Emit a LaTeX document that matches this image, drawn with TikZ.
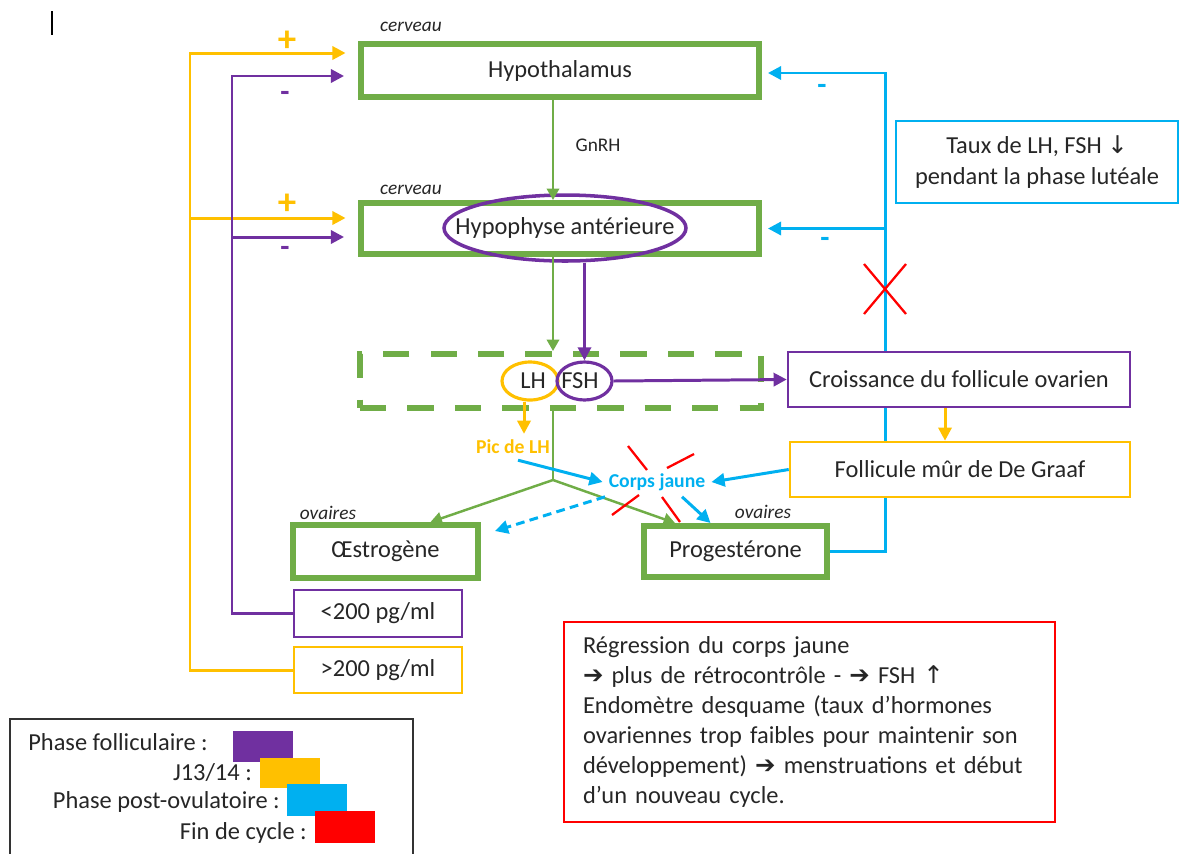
\documentclass[tikz,border=0pt]{standalone}
\usepackage{fontspec}
\setmainfont{Carlito}
\newfontfamily\symbfont{DejaVu Sans}
\usetikzlibrary{arrows.meta,shapes.geometric}

\definecolor{vert}{HTML}{70AD47}
\definecolor{mauve}{HTML}{7030A0}
\definecolor{jaune}{HTML}{FFC000}
\definecolor{bleu}{HTML}{00B0F0}
\definecolor{rouge}{HTML}{FF0000}

\begin{document}
\begin{tikzpicture}[
  x=0.02cm, y=-0.02cm,
  every node/.style={font=\fontsize{13.9}{17}\selectfont, text=black!85},
  organ/.style={draw=vert, line width=3.4pt, fill=white, minimum width=7.96cm, minimum height=1.06cm},
  hormone/.style={organ, minimum width=3.7cm},
  info/.style={draw=#1, line width=1.5pt, fill=white, minimum width=6.84cm, minimum height=1.1cm},
  threshold/.style={draw=#1, line width=1.1pt, fill=white, minimum width=3.36cm, minimum height=0.93cm},
  place/.style={font=\fontsize{11}{13}\selectfont\itshape},
  sign/.style={font=\fontsize{19}{20}\selectfont\bfseries, text=#1},
  tag/.style={font=\fontsize{11.2}{13}\selectfont\bfseries, text=#1},
  oval/.style={ellipse, draw=#1, line width=1.8pt},
  flow/.style={draw=#1, line width=1.7pt, -{Triangle[length=7.5pt,width=7.5pt]}},
  gline/.style={draw=vert, line width=1.4pt},
  cross/.style={draw=rouge, line width=1.3pt}
]
  \useasboundingbox (0,0) rectangle (1182,853);

  % Cursor
  \draw[line width=0.8pt] (52,11) -- (52,35);

  % Brain
  \node[organ] (hypothalamus) at (560,70.5) {Hypothalamus};
  \node[place] (cerveau top) at (411,27) {cerveau};
  \node[organ, minimum height=1.02cm] (hypophyse) at (560,228.5) {};
  \node[place] (cerveau bottom) at (411,190) {cerveau};
  \node[oval=mauve, line width=2pt, minimum width=4.84cm, minimum height=1.32cm] (hypophyse oval) at (565,228) {};
  \node (hypophyse label) at (565,228) {Hypophyse antérieure};
  \node[font=\fontsize{11}{13}\selectfont] (gnrh) at (598,145) {GnRH};

  % Ovaries
  \node[hormone] (oestrogene) at (385.5,551.5) {Œstrogène};
  \node[place] (ovaires left) at (328,513) {ovaires};
  \node[hormone, minimum width=3.66cm, minimum height=1.02cm] (progesterone) at (735.5,551.5) {Progestérone};
  \node[place] (ovaires right) at (763,512) {ovaires};

  % Blue feedback (under the boxes)
  \coordinate (blue rail) at (885,0);
  \draw[flow=bleu, shorten >=0.12cm] (progesterone.east) -| ([yshift=-0.05cm]hypothalamus.east -| blue rail) -- ([yshift=-0.05cm]hypothalamus.east);
  \draw[flow=bleu, shorten >=0.12cm] (hypophyse.east -| blue rail) -- (hypophyse.east);
  \node[sign=bleu, font=\fontsize{17}{20}\selectfont\bfseries] (minus blue top) at (822,89) {-};
  \node[sign=bleu, font=\fontsize{17}{20}\selectfont\bfseries] (minus blue bottom) at (825,242) {-};
  \draw[cross] (864,264) -- (906,314) (906,264) -- (864,314);
  \node[info=bleu, minimum width=5.64cm, minimum height=1.64cm, align=center, font=\fontsize{13.9}{18}\selectfont] (taux) at (1037,162) {Taux de LH, FSH {\symbfont ↓}\\pendant la phase lutéale};

  % Follicle
  \node[info=mauve] (croissance) at (959,379.5) {Croissance du follicule ovarien};
  \node[info=jaune, minimum width=6.8cm] (graaf) at (960,469.5) {Follicule mûr de De Graaf};

  % Pituitary hormones
  \node[draw=vert, line width=3.4pt, dash pattern=on 15pt off 12pt, minimum width=8.02cm, minimum height=1.08cm] (pool) at (560.5,381) {};
  \node[oval=jaune, minimum width=1.12cm, minimum height=0.76cm] (lh oval) at (530,381) {};
  \node[oval=mauve, minimum width=1.1cm, minimum height=0.76cm] (fsh oval) at (584.5,381) {};
  \node (lh) at (533,381) {LH};
  \node (fsh) at (580,381) {FSH};
  \node[tag=jaune] (pic lh) at (513,447) {Pic de LH};
  \node[tag=bleu] (corps jaune) at (657,482) {Corps jaune};

  % Thresholds
  \node[threshold=mauve] (low) at (378,613.5) {<200 pg/ml};
  \node[threshold=jaune] (high) at (378,670) {>200 pg/ml};

  % Green axis
  \coordinate (green axis) at (553,0);
  \coordinate (split) at (553,480);
  \draw[gline, -{Triangle[length=6.5pt,width=7pt]}] (green axis |- hypothalamus.south) -- (green axis |- hypophyse.north);
  \draw[gline, -{Triangle[length=6.5pt,width=7pt]}] (green axis |- hypophyse.south) -- (green axis |- pool.north);
  \draw[gline] (green axis |- pool.south) -- (split);
  \draw[gline, -{Triangle[length=6.5pt,width=7pt]}] (split) -- ([xshift=0.9cm]oestrogene.north);
  \draw[gline, -{Triangle[length=6.5pt,width=7pt]}] (split) -- ([xshift=-1.21cm]progesterone.north);

  % Yellow and purple feedback
  \coordinate (yellow rail) at (190,0);
  \coordinate (purple rail) at (232,0);
  \draw[flow=jaune, shorten >=0.25cm] (high.west) -| ([yshift=0.35cm]hypothalamus.west -| yellow rail) -- ([yshift=0.35cm]hypothalamus.west);
  \draw[flow=jaune, shorten >=0.25cm] ([yshift=0.21cm]hypophyse.west -| yellow rail) -- ([yshift=0.21cm]hypophyse.west);
  \draw[flow=mauve, shorten >=0.28cm] (low.west) -| ([yshift=-0.11cm]hypothalamus.west -| purple rail) -- ([yshift=-0.11cm]hypothalamus.west);
  \draw[flow=mauve, shorten >=0.28cm] ([yshift=-0.17cm]hypophyse.west -| purple rail) -- ([yshift=-0.17cm]hypophyse.west);
  \node[sign=jaune, font=\fontsize{21}{22}\selectfont\bfseries] (plus hypothalamus) at (287,41) {+};
  \node[sign=mauve, font=\fontsize{17}{20}\selectfont\bfseries] (minus hypothalamus) at (285,96) {-};
  \node[sign=jaune, font=\fontsize{21}{22}\selectfont\bfseries] (plus hypophyse) at (287,204) {+};
  \node[sign=mauve, font=\fontsize{17}{20}\selectfont\bfseries] (minus hypophyse) at (285,251) {-};

  % Arrows
  \draw[flow=mauve] (fsh oval.north |- hypophyse oval.south) -- (fsh oval.north);
  \draw[flow=mauve] (fsh oval.east) -- (croissance.west);
  \draw[flow=jaune] ([xshift=-0.28cm]croissance.south) -- ([xshift=-0.28cm]croissance.south |- graaf.north);
  \draw[flow=jaune] ([xshift=-0.12cm]lh oval.south) -- ([xshift=-0.12cm]lh oval.south |- pic lh.north);
  \draw[flow=bleu] ([xshift=0.1cm]pic lh.south) -- (corps jaune.west);
  \draw[flow=bleu] (graaf.west) -- (corps jaune.east);
  \draw[flow=bleu] ([xshift=0.5cm]corps jaune.south) -- ([xshift=-0.5cm]progesterone.north);
  \draw[flow=bleu, dash pattern=on 5pt off 3pt] ([xshift=-1.04cm]corps jaune.south) -- ([xshift=0.28cm,yshift=-0.18cm]oestrogene.north east);

  % Red cross
  \draw[cross] (628,446) -- (647,470)
               (667,468) -- (694,454)
               (612,515) -- (639,495)
               (662,497) -- (680,522);

  % End of cycle
  \node[draw=rouge, line width=1.3pt, minimum width=9.82cm, minimum height=4cm, text width=9.06cm, inner xsep=0.38cm, align=left] (regression) at (809.5,722)
    {Régression du corps jaune\\{\symbfont\bfseries ➔} plus de rétrocontrôle - {\symbfont\bfseries ➔} FSH {\symbfont ↑}\\Endomètre desquame (taux d’hormones\\ovariennes trop faibles pour maintenir son\\développement) {\symbfont\bfseries ➔} menstruations et début\\d’un nouveau cycle.};

  % Legend
  \draw[line width=1.1pt, draw=black!80] (10,719) rectangle (413,880);
  \node[anchor=east] (phase f) at (214,742) {Phase folliculaire :};
  \fill[mauve] (233,731) rectangle (293,762);
  \node[anchor=east] (phase j) at (258,773) {J13/14 :};
  \fill[jaune] (260,758) rectangle (320,788);
  \node[anchor=east] (phase p) at (286,802) {Phase post-ovulatoire :};
  \fill[bleu] (287,784) rectangle (347,816);
  \node[anchor=east] (phase fin) at (313,833) {Fin de cycle :};
  \fill[rouge] (315,811) rectangle (375,843);
\end{tikzpicture}
\end{document}
